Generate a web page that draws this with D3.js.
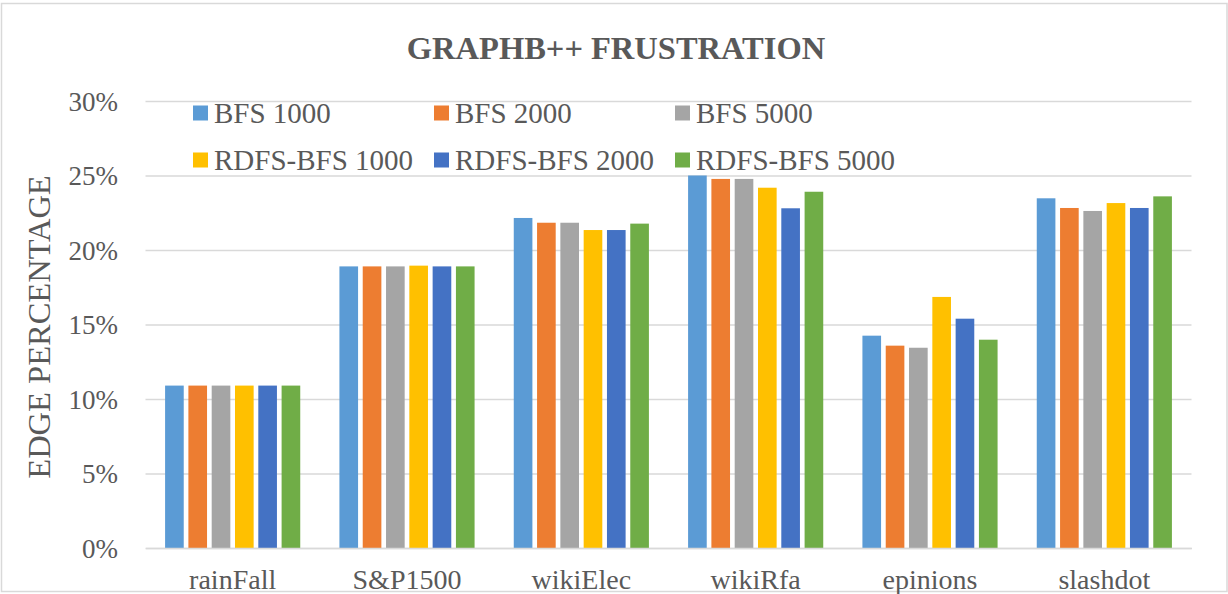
<!DOCTYPE html>
<html>
<head>
<meta charset="utf-8">
<script src="https://cdn.jsdelivr.net/npm/d3@7"></script>
<style>
  html, body { margin: 0; padding: 0; background: #fff; }
  svg { display: block; }
  text { font-family: "Liberation Serif", "Times New Roman", serif; fill: #595959; }
</style>
</head>
<body>
<svg id="chart" width="1228" height="594"></svg>
<script>
const categories = ["rainFall", "S&P1500", "wikiElec", "wikiRfa", "epinions", "slashdot"];
const seriesNames = ["BFS 1000", "BFS 2000", "BFS 5000", "RDFS-BFS 1000", "RDFS-BFS 2000", "RDFS-BFS 5000"];
const seriesColors = ["#5B9BD5", "#ED7D31", "#A5A5A5", "#FFC000", "#4472C4", "#70AD47"];
const bfs1000     = [0.109, 0.189, 0.2215, 0.250, 0.1425, 0.2347];
const bfs2000     = [0.109, 0.189, 0.2183, 0.2477, 0.1358, 0.2282];
const bfs5000     = [0.109, 0.189, 0.2183, 0.2477, 0.1344, 0.2262];
const rdfs1000    = [0.109, 0.1895, 0.2134, 0.2418, 0.1685, 0.2315];
const rdfs2000    = [0.109, 0.189, 0.2134, 0.228, 0.1539, 0.2282];
const rdfs5000    = [0.109, 0.189, 0.2177, 0.2391, 0.1398, 0.236];
const yTicks = [0, 0.05, 0.10, 0.15, 0.20, 0.25, 0.30];
const chartTitle = "GRAPHB++ FRUSTRATION";
const yTitle = "EDGE PERCENTAGE";

const seriesValues = [bfs1000, bfs2000, bfs5000, rdfs1000, rdfs2000, rdfs5000];

const svg = d3.select("#chart");
const W = 1228, H = 594;
const plot = { left: 145.5, right: 1191.5, top: 101, bottom: 548 };

// outer frame
svg.append("rect")
  .attr("x", 1.5).attr("y", 3.5)
  .attr("width", W - 2.5).attr("height", 588)
  .attr("fill", "#fff").attr("stroke", "#d9d9d9").attr("stroke-width", 1.5);

const x0 = d3.scaleBand().domain(categories)
  .range([plot.left, plot.right]).paddingInner(0.198).paddingOuter(0.099);
const x1 = d3.scaleBand().domain(seriesNames)
  .range([0, x0.bandwidth()]).paddingInner(0.2).paddingOuter(0.1);
const y = d3.scaleLinear().domain([0, 0.30]).range([plot.bottom, plot.top]);

// gridlines
const grid = svg.append("g")
  .attr("transform", `translate(${plot.left},0)`)
  .call(d3.axisLeft(y).tickValues(yTicks).tickSize(-(plot.right - plot.left)).tickFormat(""));
grid.select(".domain").remove();
grid.selectAll(".tick line").attr("stroke", "#d9d9d9").attr("stroke-width", 1.5);

// y tick labels
const yAxis = svg.append("g")
  .attr("transform", `translate(118,0)`)
  .call(d3.axisLeft(y).tickValues(yTicks).tickSize(0).tickPadding(0).tickFormat(d3.format(".0%")));
yAxis.select(".domain").remove();
yAxis.selectAll("text")
  .attr("font-family", "Liberation Serif, Times New Roman, serif")
  .attr("font-size", 27).attr("fill", "#595959").attr("dy", "0.34em");

// bars
const groups = svg.append("g").selectAll("g")
  .data(categories).join("g")
  .attr("transform", d => `translate(${x0(d)},0)`);
groups.selectAll("rect")
  .data((c, ci) => seriesNames.map((s, si) => ({ s, v: seriesValues[si][ci], color: seriesColors[si] })))
  .join("rect")
  .attr("x", d => x1(d.s))
  .attr("width", x1.bandwidth())
  .attr("y", d => y(d.v))
  .attr("height", d => y(0) - y(d.v))
  .attr("fill", d => d.color);

// x axis baseline + labels
const xAxis = svg.append("g")
  .attr("transform", `translate(0,${plot.bottom})`)
  .call(d3.axisBottom(x0).tickSize(0).tickPadding(0));
xAxis.select(".domain").attr("stroke", "#d9d9d9").attr("stroke-width", 1.5);
xAxis.selectAll("text")
  .attr("font-family", "Liberation Serif, Times New Roman, serif")
  .attr("font-size", 28).attr("fill", "#595959")
  .attr("dy", 0).attr("y", 41);

// title
svg.append("text")
  .attr("x", 616).attr("y", 59)
  .attr("text-anchor", "middle")
  .attr("font-size", 32.5).attr("font-weight", "bold")
  .text(chartTitle);

// y axis title
svg.append("text")
  .attr("transform", `translate(50,327) rotate(-90)`)
  .attr("text-anchor", "middle")
  .attr("font-size", 32.5)
  .text(yTitle);

// legend
const legendCols = [193, 434, 675];
const legendRows = [113, 160];
const legend = svg.append("g");
seriesNames.forEach((name, i) => {
  const cx = legendCols[i % 3], cy = legendRows[Math.floor(i / 3)];
  legend.append("rect")
    .attr("x", cx).attr("y", cy - 7.5).attr("width", 15).attr("height", 15)
    .attr("fill", seriesColors[i]);
  legend.append("text")
    .attr("x", cx + 21).attr("y", cy).attr("dy", "0.35em")
    .attr("font-size", 29)
    .text(name);
});
</script>
</body>
</html>
